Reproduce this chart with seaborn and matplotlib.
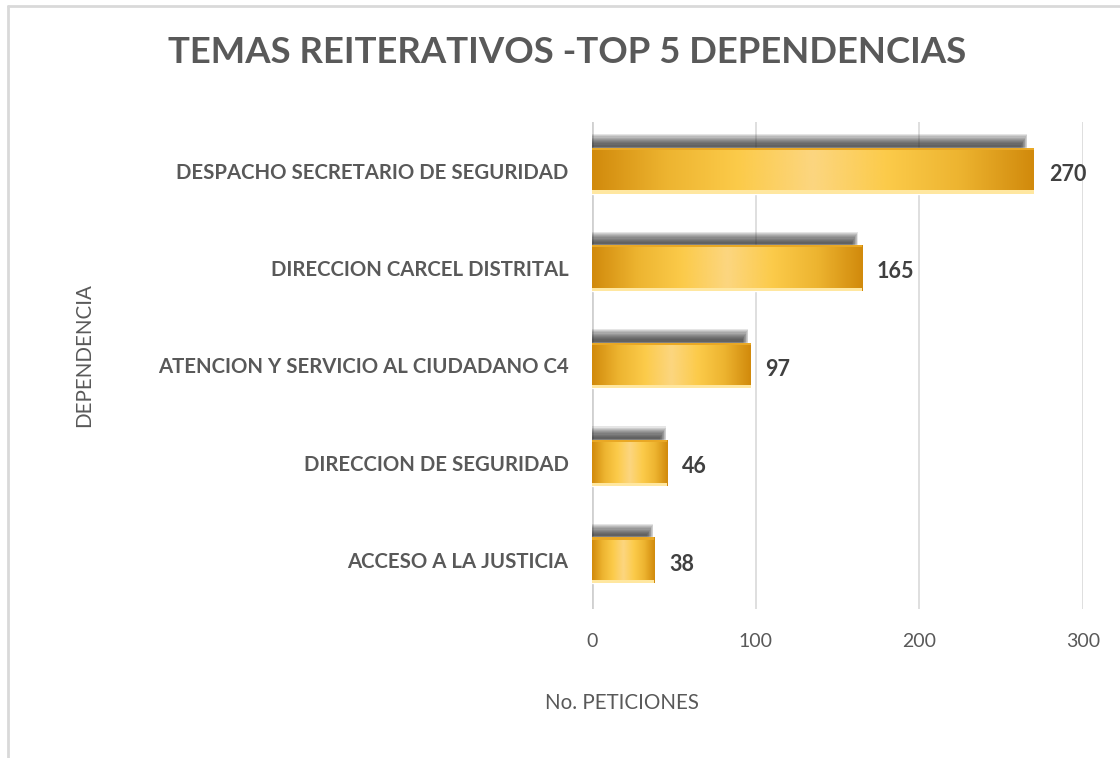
import numpy as np
import pandas as pd
import matplotlib.pyplot as plt
import seaborn as sns
from matplotlib.colors import LinearSegmentedColormap
from matplotlib.patches import Rectangle
from matplotlib.lines import Line2D

# datos
dependencias = ["DESPACHO SECRETARIO DE SEGURIDAD", "DIRECCION CARCEL DISTRITAL",
                "ATENCION Y SERVICIO AL CIUDADANO C4", "DIRECCION DE SEGURIDAD",
                "ACCESO A LA JUSTICIA"]
peticiones = [270, 165, 97, 46, 38]
ticks_x = [0, 100, 200, 300]

df = pd.DataFrame({"DEPENDENCIA": dependencias, "No. PETICIONES": peticiones})

sns.set_style("white")
plt.rcParams["font.family"] = ["Lato", "DejaVu Sans"]
gris = "#595959"

fig = plt.figure(figsize=(11.2, 7.58), dpi=100)
ax = fig.add_axes([0.5286, 0.1966, 0.4384, 0.6425])

sns.barplot(data=df, x="No. PETICIONES", y="DEPENDENCIA", orient="h",
            color="#F2B632", width=0.47, ax=ax, zorder=3)

ax.set_xlim(0, 300)
ax.set_ylim(4.5, -0.5)
ax.set_xticks(ticks_x)
ax.xaxis.grid(True, color="#D9D9D9", lw=1.2, zorder=0)
ax.axvline(0, color="#D0D0D0", lw=2, zorder=1)
for s in ax.spines.values():
    s.set_visible(False)

# degradado horizontal tipo "oro"
cmap = LinearSegmentedColormap.from_list(
    "oro", ["#D18A0C", "#EDB430", "#FCCB4A", "#FCD680", "#FCCB4A", "#EDB430", "#D18A0C"])
grad = np.linspace(0, 1, 256).reshape(1, -1)

for p in list(ax.patches):
    x0, y0, w, h = p.get_x(), p.get_y(), p.get_width(), p.get_height()
    # sombra difusa encima de la barra
    for k in range(10):
        ax.add_patch(Rectangle((x0, y0 - 0.14 + k * 0.012), w * 0.985 - k * 0.4, h * 0.36,
                               color="#2a2a2a", alpha=0.12, lw=0, zorder=2))
    im = ax.imshow(grad, cmap=cmap, aspect="auto", extent=[x0, x0 + w, y0 + h, y0],
                   zorder=4, interpolation="bicubic")
    im.set_clip_path(p)
    ax.add_patch(Rectangle((x0, y0 + h * 0.93), w, h * 0.07, color="#FFE7A0", lw=0, zorder=5))
    ax.add_patch(Rectangle((x0, y0), w, h * 0.05, color="#E9A825", lw=0, zorder=5))

for i, v in enumerate(peticiones):
    ax.text(v + 9, i + 0.04, str(v), va="center", ha="left", fontsize=15.5,
            fontweight="bold", color="#404040")

ax.tick_params(axis="y", length=0, pad=17)
ax.tick_params(axis="x", length=0, pad=17)
ax.set_yticks(range(len(dependencias)))
ax.set_yticklabels(dependencias, fontsize=14.7, fontweight="bold", color=gris)
ax.set_xticklabels([str(t) for t in ticks_x], fontsize=14, color=gris)
ax.set_xlabel("")
ax.set_ylabel("")

fig.text(0.075, 0.532, "DEPENDENCIA", rotation=90, ha="center", va="center",
         fontsize=14.8, color=gris)
fig.text(0.555, 0.0726, "No. PETICIONES", ha="center", va="center",
         fontsize=14.8, color=gris)
fig.text(0.506, 0.931, "TEMAS REITERATIVOS -TOP 5 DEPENDENCIAS", ha="center", va="center",
         fontsize=26.3, fontweight="bold", color=gris)

# borde del area del grafico
fig.add_artist(Line2D([0.0075, 0.0075], [0.0, 0.992], color="#D9D9D9", lw=2))
fig.add_artist(Line2D([0.0075, 1.0], [0.992, 0.992], color="#D9D9D9", lw=2))

fig.savefig("out.png", dpi=100)
